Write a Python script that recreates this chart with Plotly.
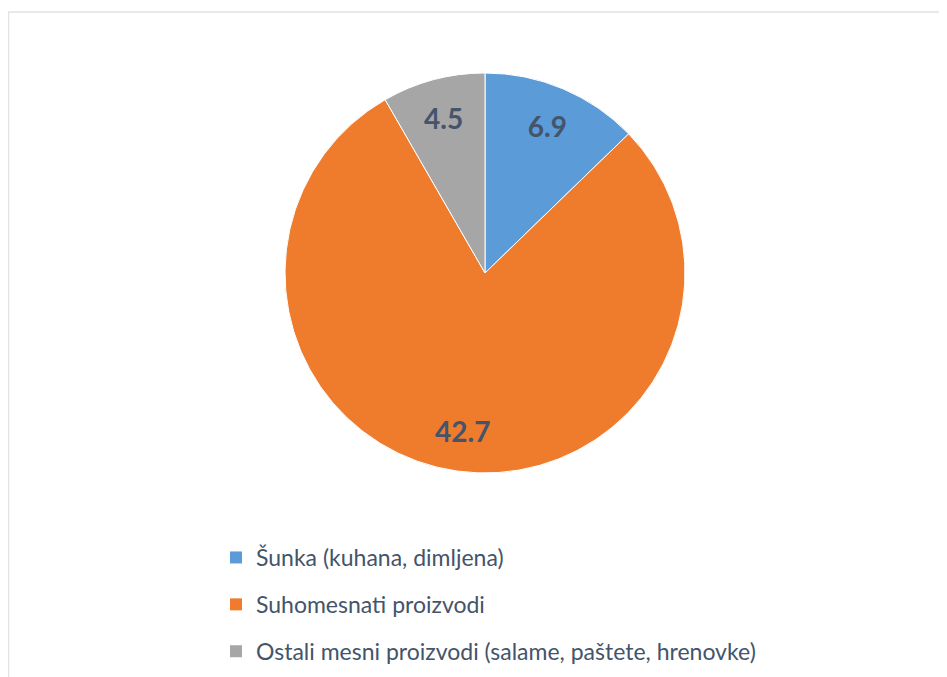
import plotly.graph_objects as go

# data
labels = ["Šunka (kuhana, dimljena)", "Suhomesnati proizvodi",
          "Ostali mesni proizvodi (salame, paštete, hrenovke)"]
values = [6.9, 42.7, 4.5]
colors = ["#5b9bd8", "#ef7b2d", "#a6a6a6"]

W, H = 947, 677
# the page puts the figure 8px in from the top-left corner
pie_dom = dict(x=[277 / W, 677 / W], y=[1 - 465 / H, 1 - 65 / H])

fig = go.Figure()

fig.add_trace(go.Pie(
    labels=labels,
    values=values,
    sort=False,
    direction="clockwise",
    rotation=0,
    textinfo="none",
    marker=dict(colors=colors, line=dict(color="white", width=1)),
    domain=pie_dom,
    showlegend=False,
    hoverinfo="label+value",
))

# transparent ring on top, only used to put the value labels at ~0.8 radius
fig.add_trace(go.Pie(
    labels=labels,
    values=values,
    sort=False,
    direction="clockwise",
    rotation=0,
    hole=0.6,
    texttemplate="<b>%{value}</b>",
    textposition="inside",
    insidetextorientation="horizontal",
    textfont=dict(family="Lato", size=28, color="#44546a"),
    marker=dict(colors=["rgba(0,0,0,0)"] * 3, line=dict(width=0)),
    domain=pie_dom,
    showlegend=False,
    hoverinfo="skip",
))

# legend entries (separate groups so the row spacing matches)
for i, (lab, col) in enumerate(zip(labels, colors)):
    fig.add_trace(go.Scatter(
        x=[None], y=[None], mode="markers", name=lab,
        legendgroup=str(i),
        marker=dict(symbol="square", size=12, color=col),
    ))

fig.update_layout(
    width=W, height=H,
    margin=dict(l=0, r=0, t=0, b=0),
    paper_bgcolor="white",
    plot_bgcolor="white",
    xaxis=dict(visible=False),
    yaxis=dict(visible=False),
    showlegend=True,
    legend=dict(
        x=208 / W, y=1 - 528 / H, xanchor="left", yanchor="top",
        font=dict(family="Lato", size=23, color="#44546a"),
        tracegroupgap=14, itemwidth=30,
        bgcolor="rgba(0,0,0,0)",
    ),
    shapes=[dict(
        type="rect", xref="paper", yref="paper",
        x0=0.5 / W, y0=-0.05, x1=1.05, y1=1 - 4 / H,
        line=dict(color="#dfe2e6", width=1.5),
    )],
)

fig.write_html("out.html")
